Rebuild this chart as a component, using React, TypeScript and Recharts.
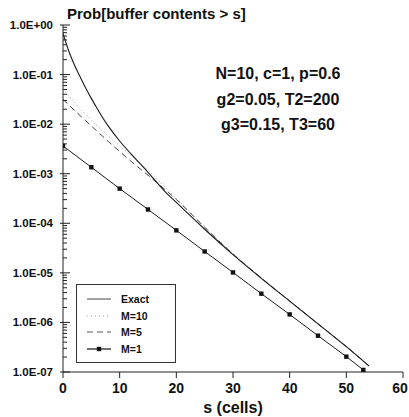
import React from 'react';
import { LineChart, Line, XAxis, YAxis, Legend } from 'recharts';

// ---- data ----
const sExact = [0, 1, 2, 3, 4, 5, 6, 7, 8, 10, 12, 15, 18, 20, 25, 30, 35, 40, 45, 50, 54];
const pExact = [0.676, 0.302, 0.158, 0.0912, 0.0537, 0.0331, 0.0209, 0.0135, 0.00912, 0.00457, 0.00251, 0.00107, 4.37e-4, 2.63e-4, 7.59e-5, 2.34e-5, 7.76e-6, 2.69e-6, 9.33e-7, 3.24e-7, 1.32e-7];

const sM10 = [0, 2, 4, 6, 8, 10, 12, 15, 18, 20, 25, 30, 35, 40, 45, 50, 54];
const pM10 = [0.0513, 0.0275, 0.0158, 0.00933, 0.00575, 0.00363, 0.00234, 0.00117, 5.37e-4, 3.16e-4, 8.51e-5, 2.45e-5, 7.94e-6, 2.7e-6, 9.4e-7, 3.25e-7, 1.33e-7];

const sM5 = [0, 2, 4, 6, 8, 10, 12, 15, 18, 20, 25, 30, 35, 40, 45, 50, 54];
const pM5 = [0.0316, 0.0191, 0.0117, 0.00724, 0.00447, 0.00282, 0.00178, 9.33e-4, 4.79e-4, 3.02e-4, 8.32e-5, 2.4e-5, 7.9e-6, 2.7e-6, 9.4e-7, 3.25e-7, 1.33e-7];

const sM1 = [0, 5, 10, 15, 20, 25, 30, 35, 40, 45, 50, 53];
const pM1 = [3.63e-3, 1.35e-3, 5.0e-4, 1.9e-4, 7.2e-5, 2.7e-5, 1.02e-5, 3.8e-6, 1.45e-6, 5.4e-7, 2.04e-7, 1.1e-7];

const xTicks = [0, 10, 20, 30, 40, 50, 60];
const decadeTicks = [1, 1e-1, 1e-2, 1e-3, 1e-4, 1e-5, 1e-6, 1e-7];
const minorMultipliers = [2, 3, 4, 5, 6, 7, 8, 9];

const titleText = 'Prob[buffer contents > s]';
const xLabel = 's (cells)';
const noteLines = ['N=10, c=1, p=0.6', 'g2=0.05, T2=200', 'g3=0.15, T3=60'];
const seriesNames = ['Exact', 'M=10', 'M=5', 'M=1'];

// ---- helpers ----
const zip = (s: number[], p: number[]) => s.map((v, i) => ({ s: v, p: p[i] }));
const dataExact = zip(sExact, pExact);
const dataM10 = zip(sM10, pM10);
const dataM5 = zip(sM5, pM5);
const dataM1 = zip(sM1, pM1);

const yTicks: number[] = [...decadeTicks];
decadeTicks.slice(1).forEach((d) => minorMultipliers.forEach((m) => yTicks.push(m * d)));

const FONT = '"Liberation Sans", Arial, Helvetica, sans-serif';
const CHART_W = 409;

const isDecade = (v: number) => Math.abs(Math.log10(v) - Math.round(Math.log10(v))) < 1e-6;
const fmtExp = (v: number) => {
  const e = Math.round(Math.log10(v));
  const sign = e < 0 ? '-' : '+';
  const abs = Math.abs(e);
  return `1.0E${sign}${abs < 10 ? '0' + abs : abs}`;
};

const LeftTick = (props: any) => {
  const { x, y, payload } = props;
  const v = payload.value;
  const major = isDecade(v);
  return (
    <g>
      <line x1={major ? x - 3 : x} x2={major ? x + 7 : x + 4} y1={y} y2={y} stroke="#222" strokeWidth={1} />
      {major && (
        <text x={x - 10} y={y} dy="0.35em" textAnchor="end" fontSize={11.5} fontWeight="bold" fill="#111" fontFamily={FONT}>
          {fmtExp(v)}
        </text>
      )}
    </g>
  );
};

const RightTick = (props: any) => {
  const { x, y, payload } = props;
  const major = isDecade(payload.value);
  return <line x1={major ? x - 7 : x - 4} x2={x} y1={y} y2={y} stroke="#333" strokeWidth={1} />;
};

const BottomTick = (props: any) => {
  const { x, y, payload } = props;
  const label = String(payload.value);
  const half = label.length * 4;
  const cx = Math.min(x, CHART_W - 1 - half);
  return (
    <text x={cx} y={y} dy="0.71em" textAnchor="middle" fontSize={14} fontWeight="bold" fill="#111" fontFamily={FONT}>
      {label}
    </text>
  );
};

const SquareDot = (props: any) => {
  const { cx, cy, index } = props;
  if (cx == null || cy == null) return <g key={`d${index}`} />;
  return <rect key={`d${index}`} x={cx - 2.2} y={cy - 2.2} width={4.4} height={4.4} fill="#111" />;
};

const legendStyles = [
  { stroke: '#666', dash: undefined, width: 1.2, marker: false },
  { stroke: '#aaa', dash: '1 3', width: 1, marker: false },
  { stroke: '#555', dash: '6 4', width: 1, marker: false },
  { stroke: '#111', dash: undefined, width: 1.2, marker: true },
];

const LegendBox = () => (
  <div
    style={{
      boxSizing: 'border-box',
      width: 100,
      height: 79,
      border: '1px solid #333',
      background: '#fff',
      paddingTop: 6,
      paddingLeft: 10,
      fontFamily: FONT,
    }}
  >
    {seriesNames.map((name, i) => {
      const st = legendStyles[i];
      return (
        <div key={name} style={{ display: 'flex', alignItems: 'center', height: 16.5 }}>
          <svg width={24} height={8} style={{ display: 'block' }}>
            <line x1={0} x2={24} y1={4} y2={4} stroke={st.stroke} strokeWidth={st.width} strokeDasharray={st.dash} />
            {st.marker && <rect x={9.8} y={1.8} width={4.4} height={4.4} fill="#111" />}
          </svg>
          <span style={{ marginLeft: 10, fontSize: 10.5, fontWeight: 'bold', color: '#111', lineHeight: '12px' }}>{name}</span>
        </div>
      );
    })}
  </div>
);

export default function App() {
  return (
    <div style={{ position: 'absolute', left: 0, top: 0, width: 409, height: 417, background: '#fff', fontFamily: FONT }}>
      <LineChart width={CHART_W} height={417} margin={{ top: 25, right: 6, bottom: 0, left: 0 }}>
        <XAxis
          xAxisId="b"
          dataKey="s"
          type="number"
          domain={[0, 60]}
          ticks={xTicks}
          interval={0}
          height={45}
          tickSize={6}
          tickMargin={5}
          stroke="#222"
          allowDataOverflow
          tick={<BottomTick />}
          label={{ value: xLabel, position: 'insideBottom', offset: 4, fontSize: 16, fontWeight: 'bold', fill: '#111', fontFamily: FONT }}
        />
        <XAxis xAxisId="t" orientation="top" type="number" domain={[0, 60]} height={0} tick={false} tickLine={false} stroke="#222" />
        <YAxis
          yAxisId="l"
          type="number"
          scale="log"
          domain={[1e-7, 1]}
          allowDataOverflow
          ticks={yTicks}
          interval={0}
          width={63}
          tickSize={0}
          tickMargin={0}
          tickLine={false}
          stroke="#222"
          tick={<LeftTick />}
        />
        <YAxis
          yAxisId="r"
          orientation="right"
          type="number"
          scale="log"
          domain={[1e-7, 1]}
          allowDataOverflow
          ticks={yTicks}
          interval={0}
          width={0}
          tickSize={0}
          tickMargin={0}
          tickLine={false}
          stroke="#222"
          tick={<RightTick />}
        />
        <Line xAxisId="b" yAxisId="l" data={dataM10} dataKey="p" name="M=10" type="monotone" stroke="#999" strokeWidth={1} strokeDasharray="1 2.5" dot={false} isAnimationActive={false} />
        <Line xAxisId="b" yAxisId="l" data={dataM5} dataKey="p" name="M=5" type="monotone" stroke="#444" strokeWidth={1} strokeDasharray="6 4" dot={false} isAnimationActive={false} />
        <Line xAxisId="b" yAxisId="l" data={dataExact} dataKey="p" name="Exact" type="monotone" stroke="#1a1a1a" strokeWidth={1.1} dot={false} isAnimationActive={false} />
        <Line xAxisId="b" yAxisId="l" data={dataM1} dataKey="p" name="M=1" type="linear" stroke="#1a1a1a" strokeWidth={1} dot={<SquareDot />} isAnimationActive={false} />
        <Legend
          layout="horizontal"
          align="center"
          verticalAlign="middle"
          content={() => <LegendBox />}
          wrapperStyle={{ position: 'absolute', left: 76, top: 284, width: 100, height: 79 }}
        />
      </LineChart>
      <div style={{ position: 'absolute', left: 67, top: 6, fontSize: 15, lineHeight: '16px', fontWeight: 'bold', color: '#111', whiteSpace: 'nowrap' }}>
        {titleText}
      </div>
      {noteLines.map((t, i) => (
        <div
          key={t}
          style={{
            position: 'absolute',
            left: 178,
            width: 200,
            top: 65 + i * 25.5,
            textAlign: 'center',
            fontSize: 16,
            lineHeight: '18px',
            fontWeight: 'bold',
            color: '#111',
            whiteSpace: 'nowrap',
          }}
        >
          {t}
        </div>
      ))}
    </div>
  );
}
